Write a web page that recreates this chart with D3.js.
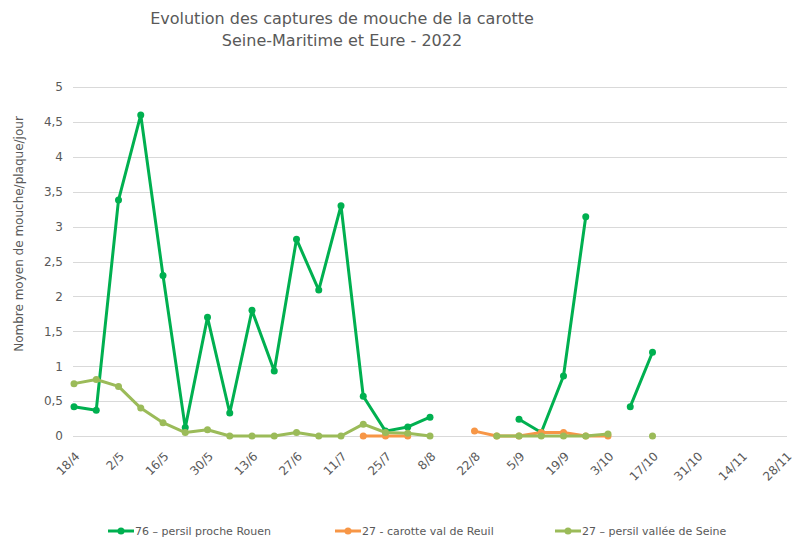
<!DOCTYPE html>
<html>
<head>
<meta charset="utf-8">
<script src="https://cdn.jsdelivr.net/npm/d3@7"></script>
<style>
  body { margin: 0; background: #fff; }
  text { font-family: "DejaVu Sans", Verdana, sans-serif; fill: #595959; }
</style>
</head>
<body>
<svg id="chart" width="801" height="539"></svg>
<script>
// weekly trap readings (week start dates, 2022)
var weeks = ["18/4","25/4","2/5","9/5","16/5","23/5","30/5","6/6","13/6","20/6","27/6","4/7","11/7","18/7","25/7","1/8","8/8","15/8","22/8","29/8","5/9","12/9","19/9","26/9","3/10","10/10","17/10"];
var rouen = [0.42,0.37,3.38,4.6,2.3,0.12,1.7,0.33,1.8,0.93,2.82,2.09,3.3,0.57,0.07,0.13,0.27,null,null,null,0.24,0.05,0.86,3.14,null,0.42,1.2];
var reuil = [null,null,null,null,null,null,null,null,null,null,null,null,null,0,0,0,null,null,0.07,0,0,0.05,0.05,0,0,null,null];
var seine = [0.75,0.81,0.71,0.4,0.19,0.05,0.09,0,0,0,0.05,0,0,0.17,0.05,0.04,0,null,null,0,0,0,0,0,0.03,null,0];
var xTickLabels = ["18/4","2/5","16/5","30/5","13/6","27/6","11/7","25/7","8/8","22/8","5/9","19/9","3/10","17/10","31/10","14/11","28/11"];
var yTicks = [0,0.5,1,1.5,2,2.5,3,3.5,4,4.5,5];
var seriesNames = ["76 \u2013 persil proche Rouen","27 - carotte val de Reuil","27 \u2013 persil vall\u00e9e de Seine"];
var seriesColors = ["#00b050","#f79646","#9bbb59"];

var parse = function(s) { var p = s.split("/"); return new Date(2022, +p[1] - 1, +p[0]); };

var svg = d3.select("#chart");
var margin = {left: 74, right: 15, top: 87, bottom: 103};
var width = +svg.attr("width");
var height = +svg.attr("height");

var x = d3.scaleTime()
  .domain([parse(xTickLabels[0]), parse(xTickLabels[xTickLabels.length - 1])])
  .range([margin.left, width - margin.right]);
var y = d3.scaleLinear().domain([0, 5]).range([height - margin.bottom, margin.top]);

var fmt = function(v) { return String(v).replace(".", ","); };

// gridlines
svg.append("g")
  .selectAll("line")
  .data(yTicks)
  .join("line")
  .attr("x1", margin.left - 1)
  .attr("x2", width - margin.right + 1)
  .attr("y1", function(d) { return Math.round(y(d)) + 0.5; })
  .attr("y2", function(d) { return Math.round(y(d)) + 0.5; })
  .attr("stroke", "#d9d9d9")
  .attr("stroke-width", 1);

// y axis labels
var yAxis = d3.axisLeft(y).tickValues(yTicks).tickFormat(fmt).tickSize(0).tickPadding(11);
var gy = svg.append("g").attr("transform", "translate(" + margin.left + ",0)").call(yAxis);
gy.select(".domain").remove();
gy.selectAll("text").style("font-size", "12px").attr("fill", "#595959");

// x axis labels, rotated
var xAxis = d3.axisBottom(x).tickValues(xTickLabels.map(parse)).tickSize(0)
  .tickFormat(function(d, i) { return xTickLabels[i]; });
var gx = svg.append("g").attr("transform", "translate(0," + y(0) + ")").call(xAxis);
gx.select(".domain").remove();
gx.selectAll("text")
  .style("font-size", "12px")
  .attr("fill", "#595959")
  .attr("text-anchor", "end")
  .attr("dy", 0)
  .attr("y", 0)
  .attr("transform", "translate(6,21) rotate(-45)");

// series
var all = [rouen, reuil, seine];
var line = d3.line()
  .defined(function(d) { return d != null; })
  .x(function(d, i) { return x(parse(weeks[i])); })
  .y(function(d) { return y(d); });

all.forEach(function(vals, k) {
  svg.append("path")
    .datum(vals)
    .attr("fill", "none")
    .attr("stroke", seriesColors[k])
    .attr("stroke-width", 3)
    .attr("stroke-linejoin", "round")
    .attr("stroke-linecap", "round")
    .attr("d", line);
  svg.append("g")
    .selectAll("circle")
    .data(vals.map(function(v, i) { return {v: v, i: i}; }).filter(function(d) { return d.v != null; }))
    .join("circle")
    .attr("cx", function(d) { return x(parse(weeks[d.i])); })
    .attr("cy", function(d) { return y(d.v); })
    .attr("r", 3.5)
    .attr("fill", seriesColors[k]);
});

// titles
svg.append("text")
  .attr("x", 342).attr("y", 24)
  .attr("text-anchor", "middle")
  .style("font-size", "16px")
  .text("Evolution des captures de mouche de la carotte");
svg.append("text")
  .attr("x", 342).attr("y", 46)
  .attr("text-anchor", "middle")
  .style("font-size", "16px")
  .text("Seine-Maritime et Eure - 2022");

svg.append("text")
  .attr("transform", "translate(23,234) rotate(-90)")
  .attr("text-anchor", "middle")
  .style("font-size", "12px")
  .text("Nombre moyen de mouche/plaque/jour");

// legend
var legendX = [108, 335, 555];
var lg = svg.append("g").selectAll("g")
  .data(seriesNames)
  .join("g")
  .attr("transform", function(d, i) { return "translate(" + legendX[i] + ",531)"; });
lg.append("line").attr("x1", 0).attr("x2", 26).attr("y1", 0).attr("y2", 0)
  .attr("stroke", function(d, i) { return seriesColors[i]; }).attr("stroke-width", 3);
lg.append("circle").attr("cx", 13).attr("cy", 0).attr("r", 3.5)
  .attr("fill", function(d, i) { return seriesColors[i]; });
lg.append("text").attr("x", 27).attr("y", 4)
  .style("font-size", "11px")
  .text(function(d) { return d; });
</script>
</body>
</html>
